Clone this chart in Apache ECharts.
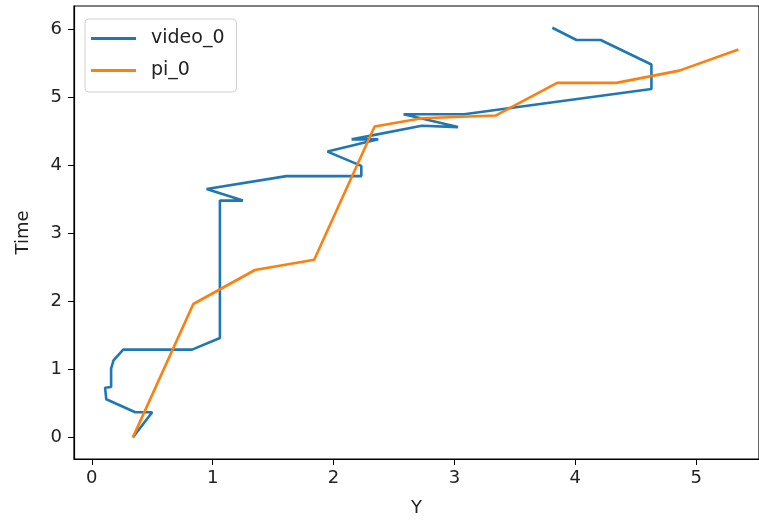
<!DOCTYPE html>
<html>
<head>
<meta charset="utf-8">
<script src="https://cdn.jsdelivr.net/npm/echarts@6/dist/echarts.min.js"></script>
<style>html,body{margin:0;padding:0;background:#fff}#c{width:759px;height:522px}</style>
</head>
<body>
<div id="c"></div>
<script>
const seriesNames = ['video_0', 'pi_0'];
const videoY    = [0.34, 0.50, 0.36, 0.12, 0.11, 0.16, 0.16, 0.18, 0.26, 0.83, 1.06, 1.06, 1.25, 0.95, 1.61, 2.23, 2.23, 1.95, 2.37, 2.15, 2.73, 3.03, 2.58, 3.08, 4.63, 4.63, 4.21, 4.01, 3.81];
const videoTime = [0.00, 0.37, 0.37, 0.56, 0.73, 0.74, 1.01, 1.13, 1.29, 1.29, 1.46, 3.48, 3.48, 3.65, 3.84, 3.84, 3.99, 4.20, 4.38, 4.38, 4.58, 4.56, 4.75, 4.75, 5.12, 5.48, 5.84, 5.84, 6.02];
const piY    = [0.34, 0.84, 1.35, 1.84, 2.34, 2.73, 3.34, 3.85, 4.34, 4.86, 5.35];
const piTime = [0.00, 1.96, 2.46, 2.61, 4.57, 4.69, 4.73, 5.21, 5.21, 5.39, 5.70];
const xTicks = [0, 1, 2, 3, 4, 5];
const yTicks = [0, 1, 2, 3, 4, 5, 6];

const pair = (xs, ys) => xs.map((x, i) => [x, ys[i]]);
const font = 'DejaVu Sans';
const chart = echarts.init(document.getElementById('c'), null, {renderer: 'canvas'});
chart.setOption({
  animation: false,
  backgroundColor: '#fff',
  grid: {left: 74, top: 6, right: 0, bottom: 61, show: true, borderColor: '#000', borderWidth: 1.2, backgroundColor: 'transparent'},
  legend: {
    left: 85, top: 19, orient: 'vertical',
    data: seriesNames.map(n => ({name: n, icon: 'rect'})),
    itemWidth: 45, itemHeight: 3, itemGap: 13,
    padding: [10, 12, 12, 6],
    borderColor: '#d0d0d0', borderWidth: 1, borderRadius: 4,
    textStyle: {fontFamily: font, fontSize: 19, color: '#222', padding: [0, 0, 0, 10]}
  },
  xAxis: {
    type: 'value', min: -0.147, max: 5.52,
    name: 'Y', nameLocation: 'middle', nameGap: 40,
    nameTextStyle: {fontFamily: font, fontSize: 18, color: '#222'},
    splitLine: {show: false},
    axisLine: {show: true, onZero: false, lineStyle: {color: '#000', width: 1.2}},
    axisTick: {show: true, length: 6, lineStyle: {color: '#000'}, customValues: xTicks},
    axisLabel: {fontFamily: font, fontSize: 18, color: '#222', margin: 10, customValues: xTicks}
  },
  yAxis: {
    type: 'value', min: -0.318, max: 6.34,
    name: 'Time', nameLocation: 'middle', nameGap: 42,
    nameTextStyle: {fontFamily: font, fontSize: 18, color: '#222'},
    splitLine: {show: false},
    axisLine: {show: true, onZero: false, lineStyle: {color: '#000', width: 1.2}},
    axisTick: {show: true, length: 6, lineStyle: {color: '#000'}, customValues: yTicks},
    axisLabel: {fontFamily: font, fontSize: 18, color: '#222', margin: 12, customValues: yTicks}
  },
  series: [
    {name: seriesNames[0], type: 'line', data: pair(videoY, videoTime), showSymbol: false, color: '#1f77b4', lineStyle: {width: 2.6}},
    {name: seriesNames[1], type: 'line', data: pair(piY, piTime), showSymbol: false, color: '#ff7f0e', lineStyle: {width: 2.6}}
  ]
});
</script>
</body>
</html>
